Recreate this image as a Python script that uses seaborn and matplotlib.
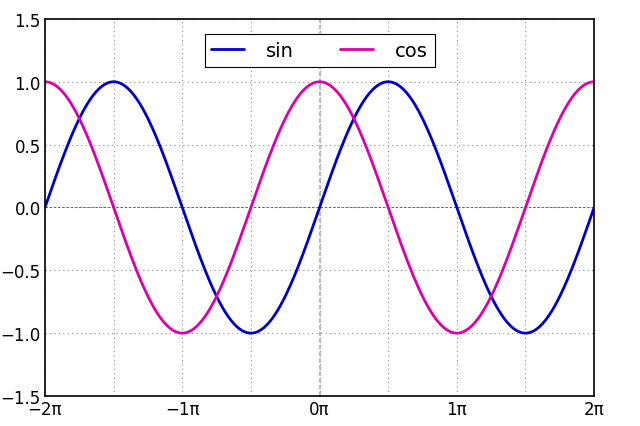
import numpy as np
import matplotlib
matplotlib.use("Agg")
import matplotlib.pyplot as plt
import seaborn as sns

# Data: the two plotted functions over [-2π, 2π]
x_min, x_max = -2 * np.pi, 2 * np.pi
x = np.linspace(x_min, x_max, 400)
series_names = ["sin", "cos"]
series_values = [np.sin(x), np.cos(x)]
series_colors = ["#0000cc", "#dd00aa"]
x_tick_pos = [k * np.pi / 2 for k in range(-4, 5)]
x_tick_labels = ["−2π", "", "−1π", "", "0π", "", "1π", "", "2π"]
y_ticks = [-1.5, -1.0, -0.5, 0.0, 0.5, 1.0, 1.5]

sns.set_style("white")
plt.rcParams["font.family"] = ["DejaVu Sans"]
plt.rcParams["text.color"] = "black"
plt.rcParams["xtick.color"] = "black"
plt.rcParams["ytick.color"] = "black"

fig = plt.figure(figsize=(6.4, 4.27), dpi=100)
ax = fig.add_axes([0.0703, 0.0703, 0.858, 0.883])

for name, vals, col in zip(series_names, series_values, series_colors):
    sns.lineplot(x=x, y=vals, ax=ax, color=col, linewidth=2, label=name)

ax.set_xlim(x_min, x_max)
ax.set_ylim(-1.5, 1.5)
ax.set_xticks(x_tick_pos)
ax.set_xticklabels(x_tick_labels)
ax.set_yticks(y_ticks)
ax.set_yticklabels([f"{v:.1f}".replace("-", "−") for v in y_ticks])
ax.tick_params(axis="both", length=0, labelsize=12, pad=3, labelcolor="black")
ax.grid(True, linestyle=(0, (1, 3)), color="#888888", linewidth=0.8)
ax.axhline(0, color="#555555", linestyle=(0, (3, 2)), linewidth=0.6, zorder=1)
ax.axvline(0, color="#bbbbbb", linestyle=(0, (2, 1)), linewidth=1.6, zorder=1)
for s in ax.spines.values():
    s.set_color("black")
    s.set_linewidth(1.2)

leg = ax.legend(loc="upper center", ncol=2, fontsize=14, frameon=True,
                fancybox=False, edgecolor="black", framealpha=1,
                bbox_to_anchor=(0.5, 0.96), columnspacing=2.4,
                handlelength=1.7, handletextpad=1.1, borderpad=0.35,
                borderaxespad=0.0)
leg.get_frame().set_linewidth(0.8)

fig.savefig("out.png", dpi=100)
